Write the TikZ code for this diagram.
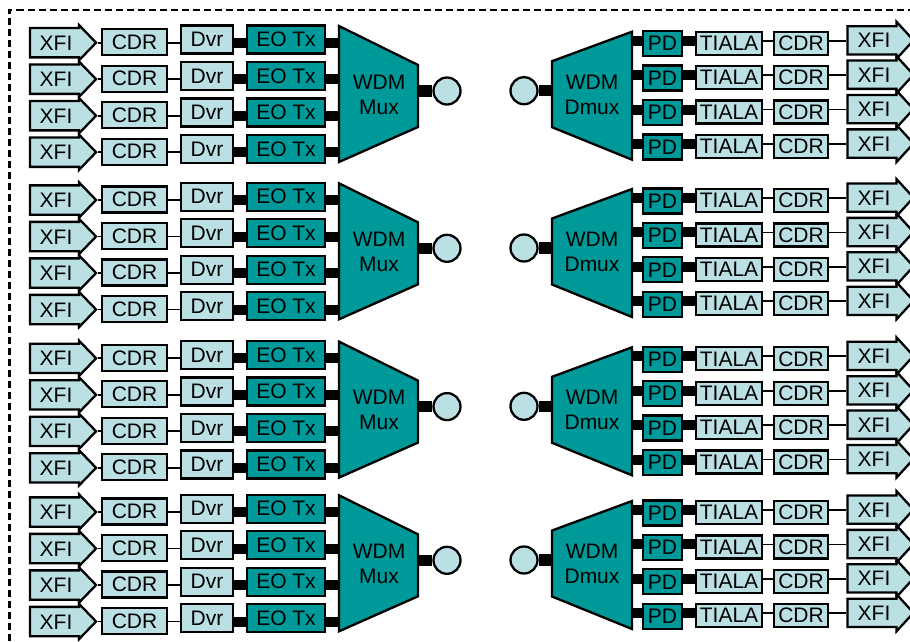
\documentclass[tikz,border=0pt]{standalone}
\usepackage{fontspec}
\setmainfont{Liberation Sans}
\usetikzlibrary{shapes.arrows}
\definecolor{wdmteal}{HTML}{009999}
\definecolor{wdmlite}{HTML}{BBE0E3}

\begin{document}
\begin{tikzpicture}[x=1pt, y=-1pt,
    every node/.style={font=\fontsize{21}{25}\selectfont, inner sep=0pt, line width=2.3pt},
    litebox/.style={rectangle, draw=black, fill=wdmlite},
    darkbox/.style={rectangle, draw=black, fill=wdmteal},
    xfiarrow/.style={single arrow, draw=black, fill=wdmlite, minimum height=66pt,
        text height=15pt, text depth=0pt, inner xsep=4pt},
    fibre/.style={circle, draw=black, fill=wdmlite, minimum size=27pt},
    wdmblock/.style={draw=black, fill=wdmteal, line width=2.3pt},
    thinwire/.style={line width=1.7pt},
    fatwire/.style={line width=10pt}]
    \useasboundingbox (0,0) rectangle (910,641);

    % Rahmen (rechts und unten abgeschnitten)
    \draw[line width=2.4pt, dash pattern=on 7pt off 4pt] (9.5,641) -- (9.5,10) -- (910,10);

    \foreach \g/\yb in {1/42.7, 2/200, 3/358.3, 4/512} {
        % Sendeseite
        \draw[wdmblock] (339,\yb-16.7) -- (418,\yb+22.3) -- (418,\yb+84.3) -- (339,\yb+119.3) -- cycle;
        \coordinate (muxin-\g) at (339,\yb);
        \coordinate (muxout-\g) at (418,\yb+48.3);
        \node[align=center] (mux-\g) at (379,\yb+52) {WDM\\Mux};
        \node[fibre] (txfib-\g) at (447,\yb+48.3) {};
        \draw[line width=11.5pt] (muxout-\g) -- (txfib-\g.west);
        \foreach \r in {0,...,3} {
            \pgfmathsetmacro\yc{\yb+36.5*\r}
            \coordinate (tline-\g-\r) at (23,\yc);
            \node[xfiarrow, inner ysep=6pt, single arrow head extend=3pt, single arrow tip angle=92]
                (txfi-\g-\r) at (56,\yc) {XFI};
            \node[litebox, minimum width=65pt, minimum height=26pt] (tcdr-\g-\r) at (134.5,\yc-0.5) {CDR};
            \node[litebox, minimum width=52pt, minimum height=28pt] (dvr-\g-\r) at (207,\yc-3.3) {Dvr};
            \node[darkbox, minimum width=78pt, minimum height=28pt] (eotx-\g-\r) at (286,\yc-3.3) {EO Tx};
            \draw[thinwire] (txfi-\g-\r.tip) -- (tcdr-\g-\r.west |- tline-\g-\r);
            \draw[thinwire] (tcdr-\g-\r.east |- tline-\g-\r) -- (dvr-\g-\r.west |- tline-\g-\r);
            \draw[fatwire] (dvr-\g-\r.east |- tline-\g-\r) -- (eotx-\g-\r.west |- tline-\g-\r);
            \draw[fatwire] (eotx-\g-\r.east |- tline-\g-\r) -- (muxin-\g |- tline-\g-\r);
        }

        % Empfangsseite
        \pgfmathsetmacro\yr{\yb+1}
        \draw[wdmblock] (552,\yr+17.5) -- (632,\yr-12) -- (632,\yr+116) -- (552,\yr+83.5) -- cycle;
        \coordinate (dmuxin-\g) at (552,\yr+47);
        \coordinate (dmuxout-\g) at (632,\yr);
        \node[align=center] (dmux-\g) at (592,\yr+51) {WDM\\Dmux};
        \node[fibre] (rxfib-\g) at (524,\yr+47) {};
        \draw[line width=11.5pt] (rxfib-\g.east) -- (dmuxin-\g);
        \foreach \r in {0,...,3} {
            \pgfmathsetmacro\yc{\yr+34.4*\r}
            \coordinate (rline-\g-\r) at (632,\yc-3);
            \node[darkbox, minimum width=39pt, minimum height=25pt] (pd-\g-\r) at (662.5,\yc) {PD};
            \node[litebox, minimum width=66pt, minimum height=23pt] (tiala-\g-\r) at (729,\yc-0.5) {TIALA};
            \node[litebox, minimum width=54pt, minimum height=23pt] (rcdr-\g-\r) at (801,\yc-0.5) {CDR};
            \node[xfiarrow, inner ysep=5.5pt, single arrow head extend=4.5pt, single arrow tip angle=95]
                (rxfi-\g-\r) at (874,\yc-3.4) {XFI};
            \draw[fatwire] (rline-\g-\r) -- (pd-\g-\r.west |- rline-\g-\r);
            \draw[fatwire] (pd-\g-\r.east |- rline-\g-\r) -- (tiala-\g-\r.west |- rline-\g-\r);
            \draw[thinwire] (tiala-\g-\r.east |- rline-\g-\r) -- (rcdr-\g-\r.west |- rline-\g-\r);
            \draw[thinwire] (rcdr-\g-\r.east |- rline-\g-\r) -- (rxfi-\g-\r.west |- rline-\g-\r);
        }
    }
\end{tikzpicture}
\end{document}
